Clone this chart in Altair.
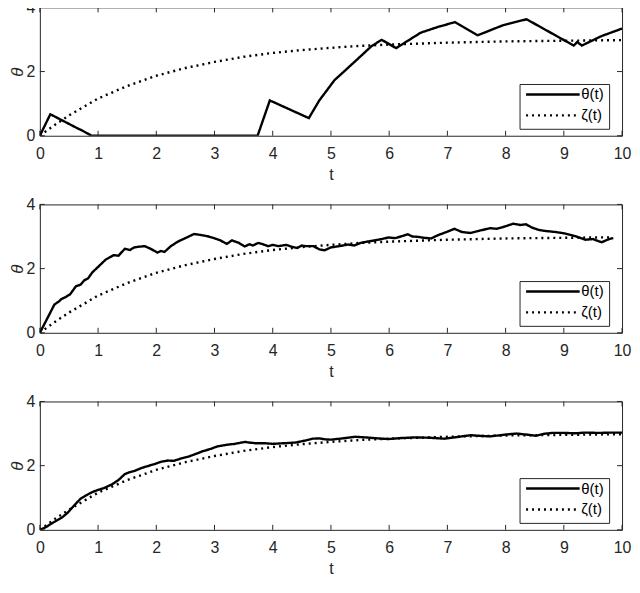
import altair as alt
import pandas as pd

# ---------------- data ----------------
LABELS = ["θ(t)", "ζ(t)"]
XTICKS = [0, 1, 2, 3, 4, 5, 6, 7, 8, 9, 10]
YTICKS = [0, 2, 4]

# panel 1 : theta(t)
T1 = [0, 0.18, 0.66, 0.72, 0.89, 3.74, 3.95, 4.62, 4.8, 5.06, 5.41, 5.69, 5.87,
      6.12, 6.54, 6.82, 7.13, 7.52, 7.95, 8.36, 9.17, 9.23, 9.31, 9.64, 10]
V1 = [0, 0.67, 0.22, 0.17, 0, 0, 1.10, 0.55, 1.1, 1.73, 2.31, 2.78, 2.99,
      2.73, 3.21, 3.38, 3.54, 3.13, 3.44, 3.63, 2.81, 2.92, 2.81, 3.10, 3.34]

# panel 2 : theta(t)
T2 = [0, 0.1, 0.25, 0.33, 0.37, 0.45, 0.52, 0.62, 0.7, 0.76, 0.83, 0.9, 1.01,
      1.13, 1.2, 1.27, 1.35, 1.46, 1.55, 1.62, 1.69, 1.8, 1.9, 2.02, 2.08, 2.14,
      2.25, 2.37, 2.5, 2.65, 2.72, 2.82, 2.9, 2.99, 3.1, 3.21, 3.3, 3.42, 3.52,
      3.6, 3.66, 3.75, 3.83, 3.92, 4.0, 4.1, 4.23, 4.33, 4.42, 4.5, 4.56, 4.7,
      4.8, 4.89, 5.0, 5.14, 5.3, 5.4, 5.51, 5.62, 5.75, 5.87, 5.99, 6.1, 6.2,
      6.32, 6.4, 6.49, 6.6, 6.72, 6.85, 7.0, 7.12, 7.25, 7.4, 7.55, 7.73, 7.85,
      8.0, 8.13, 8.25, 8.35, 8.45, 8.58, 8.7, 8.86, 9.0, 9.14, 9.25, 9.37, 9.5,
      9.65, 9.75, 9.82, 9.85]
V2 = [0, 0.35, 0.88, 0.98, 1.05, 1.12, 1.2, 1.45, 1.5, 1.63, 1.7, 1.88, 2.07,
      2.28, 2.35, 2.42, 2.4, 2.62, 2.58, 2.66, 2.68, 2.7, 2.62, 2.5, 2.55, 2.52,
      2.7, 2.84, 2.95, 3.08, 3.06, 3.03, 3.0, 2.95, 2.88, 2.77, 2.88, 2.8, 2.69,
      2.76, 2.72, 2.8, 2.76, 2.7, 2.74, 2.7, 2.74, 2.68, 2.64, 2.72, 2.7, 2.7,
      2.6, 2.57, 2.66, 2.7, 2.75, 2.72, 2.8, 2.84, 2.88, 2.92, 2.97, 2.95, 3.0,
      3.07, 3.0, 2.99, 2.96, 2.94, 3.05, 3.15, 3.24, 3.14, 3.11, 3.18, 3.26, 3.24,
      3.32, 3.4, 3.36, 3.38, 3.28, 3.2, 3.17, 3.14, 3.1, 3.04, 2.98, 2.9, 2.92,
      2.82, 2.9, 2.94, 2.95]

# panel 3 : theta(t)
T3 = [0, 0.1, 0.23, 0.3, 0.39, 0.47, 0.54, 0.62, 0.7, 0.78, 0.85, 0.93, 1.01,
      1.1, 1.24, 1.35, 1.46, 1.55, 1.63, 1.75, 1.86, 1.97, 2.08, 2.2, 2.3, 2.42,
      2.55, 2.7, 2.8, 2.93, 3.05, 3.21, 3.35, 3.52, 3.6, 3.7, 3.85, 4.0, 4.2,
      4.39, 4.55, 4.68, 4.8, 4.9, 5.0, 5.2, 5.42, 5.6, 5.8, 5.99, 6.2, 6.44, 6.7,
      6.95, 7.2, 7.4, 7.55, 7.73, 8.0, 8.19, 8.35, 8.52, 8.65, 8.8, 9.0, 9.2,
      9.37, 9.6, 9.8, 10]
V3 = [0, 0.08, 0.23, 0.3, 0.4, 0.52, 0.66, 0.82, 0.97, 1.06, 1.13, 1.2, 1.25,
      1.3, 1.42, 1.55, 1.74, 1.8, 1.84, 1.93, 1.99, 2.05, 2.12, 2.16, 2.15, 2.22,
      2.28, 2.38, 2.45, 2.52, 2.6, 2.65, 2.68, 2.74, 2.72, 2.7, 2.7, 2.68, 2.7,
      2.72, 2.78, 2.84, 2.85, 2.82, 2.81, 2.85, 2.9, 2.88, 2.85, 2.83, 2.86, 2.88,
      2.87, 2.84, 2.9, 2.95, 2.93, 2.91, 2.97, 3.0, 2.97, 2.93, 2.99, 3.02, 3.02,
      3.01, 3.03, 3.02, 3.03, 3.03]

# zeta(t), the dotted reference curve
ZT = [0, 0.25, 0.5, 1, 1.5, 2, 2.5, 3, 3.5, 4, 4.5, 5, 5.5, 6, 6.5, 7, 7.5, 8,
      8.5, 9, 9.5, 10]
ZV = [0, 0.33, 0.63, 1.16, 1.55, 1.87, 2.11, 2.3, 2.46, 2.58, 2.67, 2.74, 2.8,
      2.84, 2.87, 2.9, 2.92, 2.94, 2.95, 2.96, 2.97, 2.98]
# panel 2 dotted curve stops a little before t = 10
ZT2 = [0, 0.25, 0.5, 1, 1.5, 2, 2.5, 3, 3.5, 4, 4.5, 5, 5.5, 6, 6.5, 7, 7.5, 8,
       8.5, 9, 9.5, 9.8]
ZV2 = [0, 0.33, 0.63, 1.16, 1.55, 1.87, 2.11, 2.3, 2.46, 2.58, 2.67, 2.74, 2.8,
       2.84, 2.87, 2.9, 2.92, 2.94, 2.95, 2.96, 2.97, 2.975]

# ---------------- chart ----------------
W = 585
H = 129
FONT = "Liberation Sans"
INK = "#262626"


def panel(tt, vv, zt, zv, h, legend_y):
    df = pd.DataFrame({
        "t": list(tt) + list(zt),
        "v": list(vv) + list(zv),
        "s": [LABELS[0]] * len(tt) + [LABELS[1]] * len(zt),
        "o": list(range(len(tt))) + list(range(len(zt))),
    })
    x = alt.X("t:Q", title="t",
              scale=alt.Scale(domain=[0, 10], nice=False, zero=False),
              axis=alt.Axis(values=XTICKS, format="d", labelPadding=10,
                            titlePadding=5, labelFlush=False))
    y = alt.Y("v:Q", title="θ", scale=alt.Scale(domain=[0, 4], nice=False),
              axis=alt.Axis(values=YTICKS, format="d", labelPadding=5,
                            titlePadding=0, titleFontStyle="italic",
                            titleFontSize=17))
    lines = alt.Chart(df).mark_line(color="black", strokeWidth=2.4,
                                    strokeCap="butt", clip=True).encode(
        x=x, y=y, order="o:Q",
        strokeDash=alt.StrokeDash(
            "s:N",
            scale=alt.Scale(domain=LABELS, range=[[1, 0], [2, 4]]),
            legend=alt.Legend(
                title=None, orient="none", legendX=W - 103, legendY=legend_y,
                direction="vertical", symbolType="stroke", symbolSize=2900,
                symbolStrokeWidth=2.4, symbolStrokeColor="black",
                labelFont=FONT, labelFontSize=15, labelColor="black",
                labelOffset=0, padding=5, strokeColor=INK, fillColor="white",
                clipHeight=11, rowPadding=5,
            ),
        ),
    )
    xt = pd.DataFrame({"xt": XTICKS})
    yt = pd.DataFrame({"yt": YTICKS})
    tick_style = dict(color=INK, strokeWidth=1)
    bot = alt.Chart(xt).mark_rule(**tick_style).encode(
        x=alt.X("xt:Q", title="t"), y=alt.value(h), y2=alt.value(h - 5))
    top = alt.Chart(xt).mark_rule(**tick_style).encode(
        x=alt.X("xt:Q", title="t"), y=alt.value(0), y2=alt.value(5))
    left = alt.Chart(yt).mark_rule(**tick_style).encode(
        y=alt.Y("yt:Q", title="θ"), x=alt.value(0), x2=alt.value(5))
    right = alt.Chart(yt).mark_rule(**tick_style).encode(
        y=alt.Y("yt:Q", title="θ"), x=alt.value(W), x2=alt.value(W - 5))
    return alt.layer(lines, bot, top, left, right).properties(width=W, height=h)


p1 = panel(T1, V1, ZT, ZV, H, 77)
p2 = panel(T2, V2, ZT2, ZV2, H, 77)
p3 = panel(T3, V3, ZT, ZV, H, 77)

chart = alt.vconcat(p1, p2, p3, spacing=69, bounds="flush").resolve_scale(
    strokeDash="independent"
).resolve_legend(strokeDash="independent").properties(
    padding={"left": -1, "top": -11, "right": 0, "bottom": -3}
).configure_view(stroke=INK, strokeWidth=1).configure_axis(
    ticks=False, tickSize=0, domain=False, grid=False,
    labelFont=FONT, labelFontSize=16, labelColor=INK,
    titleFont=FONT, titleFontSize=16, titleColor=INK, titleFontWeight="normal",
)

chart.save("out.html", embed_options={"renderer": "svg", "actions": False})
